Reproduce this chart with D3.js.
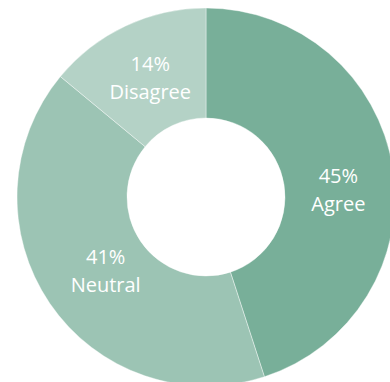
<!DOCTYPE html>
<html>
<head>
<meta charset="utf-8">
<script src="https://cdn.jsdelivr.net/npm/d3@7"></script>
<style>
  html, body { margin: 0; padding: 0; background: #fff; }
  svg { display: block; }
  text { font-family: "Open Sans", "Noto Sans", sans-serif; }
</style>
</head>
<body>
<svg id="chart" width="390" height="382"></svg>
<script>
// Survey responses
const categories = ["Agree", "Neutral", "Disagree"];
const values = [45, 41, 14];
const colors = ["#78af99", "#9cc4b4", "#b4d2c6"];

const width = 390, height = 382;
const cx = 206, cy = 197;
const outerR = 189, innerR = 79, labelR = 131;

// small per-slice nudges so the two-line labels sit nicely in their band
const labelNudge = { Agree: [3, 13], Neutral: [8, 0], Disagree: [0, 0] };

const data = categories.map((c, i) => ({ name: c, value: values[i], color: colors[i] }));

const svg = d3.select("#chart");
const g = svg.append("g").attr("transform", `translate(${cx},${cy})`);

const pie = d3.pie().value(d => d.value).sort(null);
const arc = d3.arc().innerRadius(innerR).outerRadius(outerR);
const labelArc = d3.arc().innerRadius(labelR).outerRadius(labelR);

const arcs = pie(data);

g.selectAll("path.slice")
  .data(arcs)
  .join("path")
  .attr("class", "slice")
  .attr("d", arc)
  .attr("fill", d => d.data.color)
  .attr("stroke", "#ffffff")
  .attr("stroke-width", 0.4);

const labels = g.selectAll("g.label")
  .data(arcs)
  .join("g")
  .attr("class", "label")
  .attr("transform", d => {
    const [x, y] = labelArc.centroid(d);
    const [nx, ny] = labelNudge[d.data.name];
    return `translate(${x + nx},${y + ny})`;
  });

labels.append("text")
  .attr("text-anchor", "middle")
  .attr("y", -7)
  .attr("fill", "#ffffff")
  .attr("font-size", 20)
  .text(d => `${d.data.value}%`);

labels.append("text")
  .attr("text-anchor", "middle")
  .attr("y", 21)
  .attr("fill", "#ffffff")
  .attr("font-size", 20)
  .text(d => d.data.name);
</script>
</body>
</html>
